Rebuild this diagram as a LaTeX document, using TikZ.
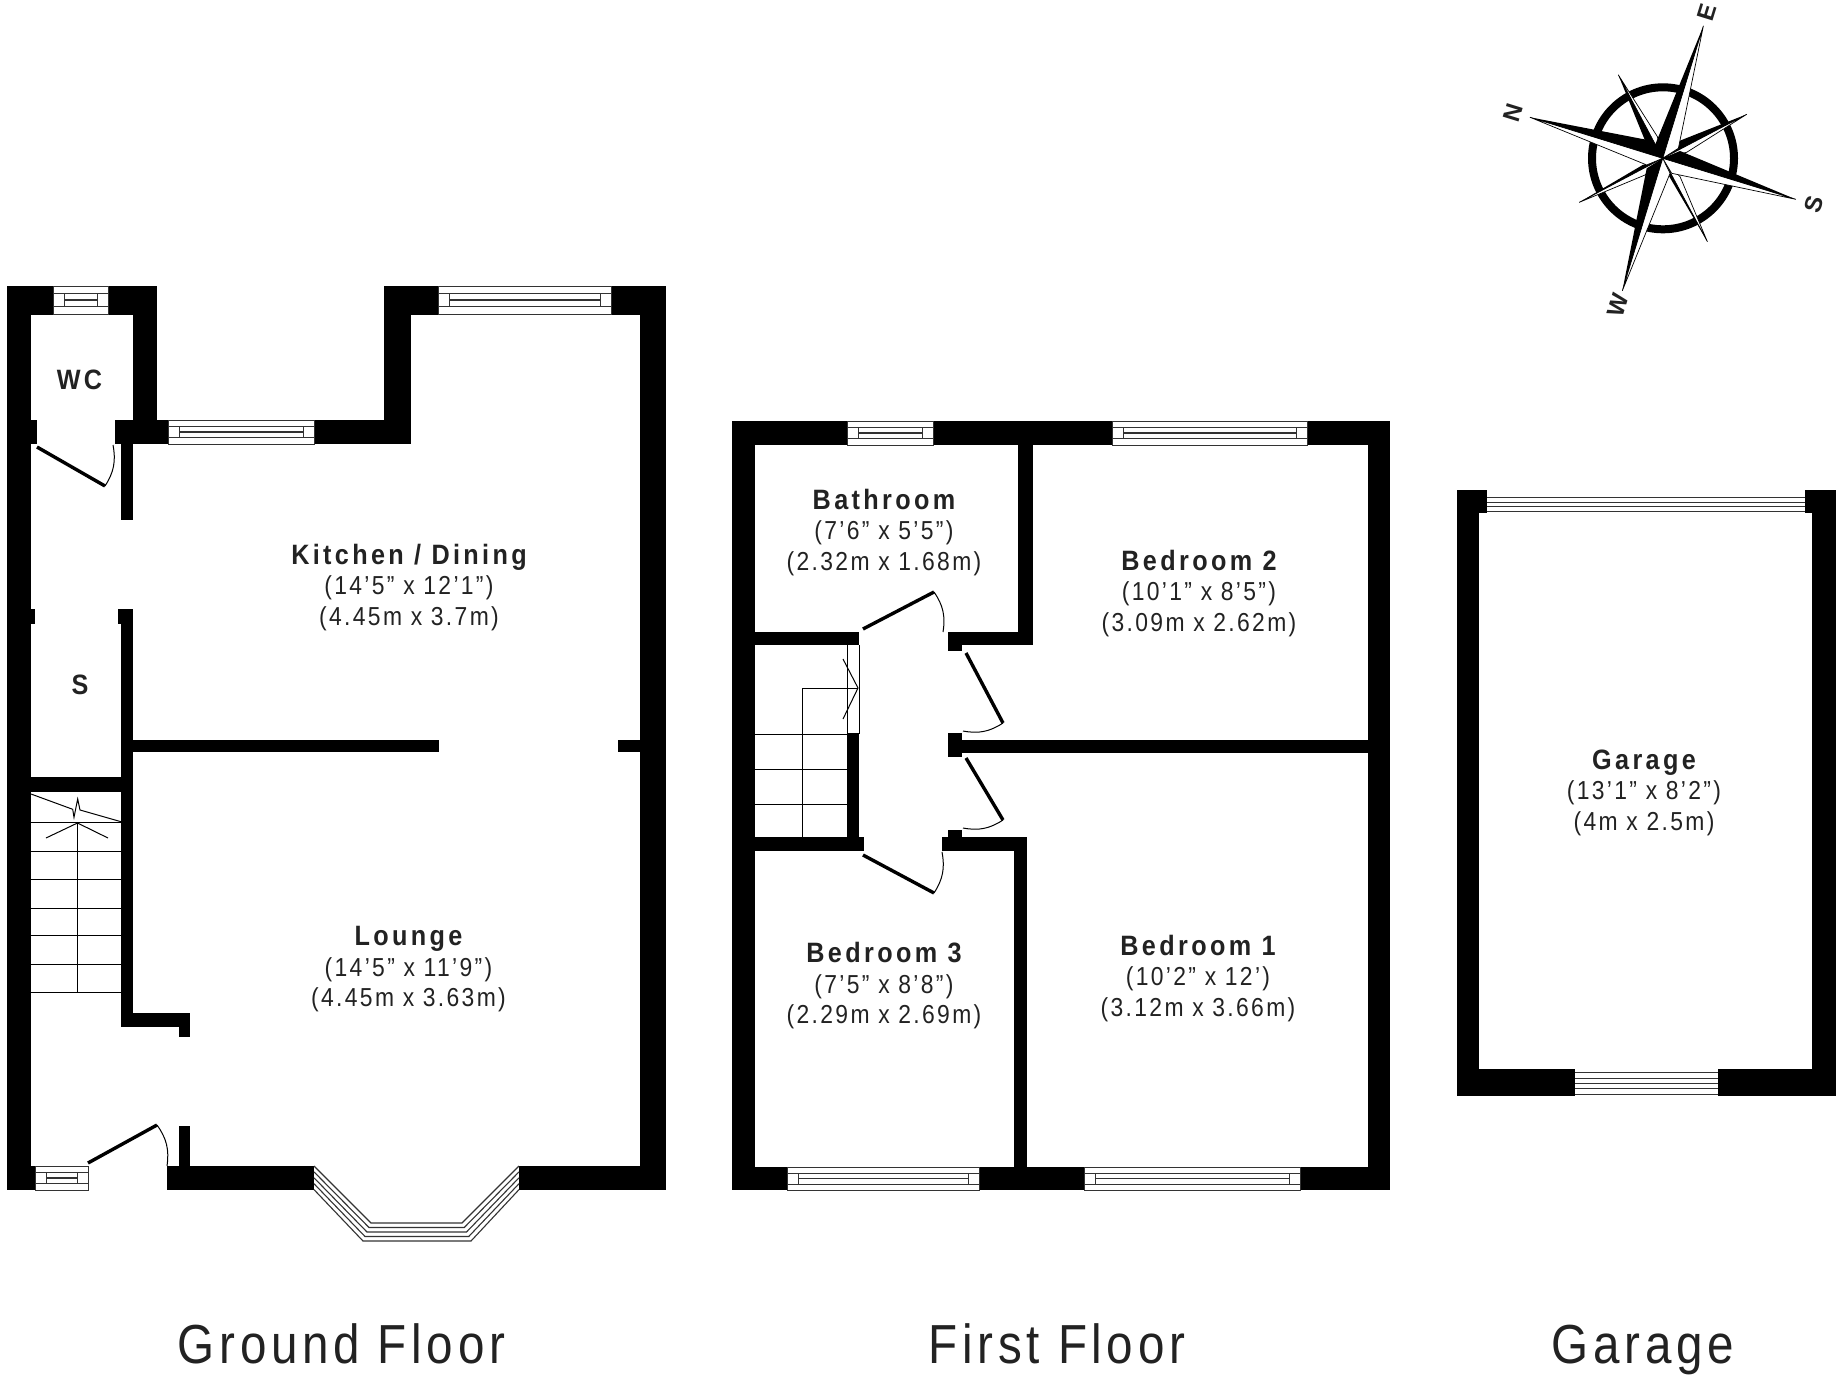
\documentclass[tikz,border=0pt]{standalone}
\usepackage{fontspec}
\setmainfont{Liberation Sans}
\newfontfamily\labfont[LetterSpace=9,FakeStretch=0.88]{Liberation Sans}
\newfontfamily\titlefont[LetterSpace=12,FakeStretch=0.9]{Liberation Sans}
\newfontfamily\capfont[LetterSpace=8.5,FakeStretch=0.865]{Liberation Sans}
\definecolor{ink}{HTML}{222222}
\definecolor{winline}{HTML}{333333}
\newcommand{\rt}[1]{{\titlefont\bfseries\fontsize{28}{30.5}\selectfont #1}}
\tikzset{
  wallfill/.style={fill=black,draw=none},
  roomlab/.style={font=\labfont\fontsize{26}{30.5}\selectfont,text=ink,align=center,inner sep=0pt},
  tag/.style={font=\titlefont\bfseries\fontsize{28}{30}\selectfont,text=ink,inner sep=0pt},
  floorcap/.style={font=\capfont\fontsize{55}{60}\selectfont,text=ink,inner sep=0pt,anchor=base},
  compassfont/.style={font=\bfseries\fontsize{24}{24}\selectfont,text=ink,inner sep=0pt},
  doorleaf/.style={draw=black,line width=3.4pt},
  doorarc/.style={draw=black,line width=1pt},
  stairline/.style={draw=black,line width=1pt},
  winframe/.style={draw=winline,line width=1pt,fill=white},
  winbar/.style={draw=winline,line width=1pt},
}
\newcommand{\wl}[4]{\fill[wallfill] (#1,#2) rectangle (#3,#4);}
\newcommand{\winh}[4]{%
  \draw[winframe] (#1,#2) rectangle (#3,#4);
  \pgfmathsetmacro{\ya}{#2+0.27*(#4-#2)}
  \pgfmathsetmacro{\yb}{#2+0.50*(#4-#2)}
  \pgfmathsetmacro{\yc}{#2+0.74*(#4-#2)}
  \pgfmathsetmacro{\xa}{#1+11}
  \pgfmathsetmacro{\xb}{#3-11}
  \draw[winbar] (#1,\ya) -- (#3,\ya);
  \draw[winbar] (#1,\yc) -- (#3,\yc);
  \draw[winbar] (\xa,\ya) -- (\xa,\yc);
  \draw[winbar] (\xb,\ya) -- (\xb,\yc);
  \draw[winbar,line width=1.5pt] (\xa,\yb) -- (\xb,\yb);
}
\newcommand{\ray}[6]{%
  \draw[fill=white,draw=black,line width=.7pt,line join=round] (0,0) -- (#1,#2) -- (#5,#6) -- cycle;
  \fill[black] (0,0) -- (#1,#2) -- (#3,#4) -- cycle;
}
\begin{document}
\begin{tikzpicture}[x=1pt,y=-1pt]
\useasboundingbox (0,0) rectangle (1840,1376);
\fill[white] (0,0) rectangle (1840,1376);

% ---------- Ground floor ----------
\wl{7}{286}{31}{1190}
\wl{31}{1166}{35}{1190}
\wl{7}{286}{157}{315}
\wl{133}{286}{157}{444}
\wl{31}{420}{37}{444}
\wl{115}{420}{168}{444}
\wl{121}{444}{133}{520}
\wl{168}{420}{411}{444}
\wl{384}{286}{411}{444}
\wl{384}{286}{666}{315}
\wl{640}{286}{666}{1190}
\wl{31}{609}{35}{624}
\wl{118}{609}{133}{624}
\wl{121}{624}{133}{1027}
\wl{133}{740}{439}{752}
\wl{618}{740}{640}{752}
\wl{31}{777}{121}{792}
\wl{121}{1013}{190}{1027}
\wl{179}{1013}{190}{1037}
\wl{179}{1126}{190}{1166}
\wl{167}{1166}{314}{1190}
\wl{519}{1166}{666}{1190}
\winh{53}{286}{108}{314}
\winh{168}{420}{314}{444}
\winh{438}{286}{611}{314}
\winh{35}{1166}{88}{1190}

% bay window
\foreach \i in {0,1,2,3,4}{
  \pgfmathsetmacro{\ya}{1166+5.9*\i}
  \pgfmathsetmacro{\yb}{1223+4.5*\i}
  \pgfmathsetmacro{\xa}{371-2*\i}
  \pgfmathsetmacro{\xb}{462+2.25*\i}
  \draw[draw=winline,line width=1.1pt] (314,\ya) -- (\xa,\yb) -- (\xb,\yb) -- (519,\ya);
}

% stairs, ground floor
\foreach \yy in {822,851,879,908,935,964,992}{ \draw[stairline] (31,\yy) -- (121,\yy); }
\draw[stairline] (77.5,823) -- (77.5,992);
\draw[stairline] (46,838) -- (77.5,823) -- (108,838);
\draw[stairline] (31,794) -- (72.7,809.3) -- (74,817.3) -- (77.7,799) -- (80,810) -- (121,821.7);

% doors, ground floor
\draw[doorleaf] (37,447) -- (105,486);
\draw[doorarc] (105,486) to[bend right=22] (113,445);
\draw[doorleaf] (88,1163) -- (157,1125);
\draw[doorarc] (157,1125) to[bend left=22] (167,1166);

% ---------- First floor ----------
\wl{732}{421}{755}{1190}
\wl{732}{421}{1390}{445}
\wl{1368}{421}{1390}{1190}
\wl{732}{1167}{1390}{1190}
\wl{1018}{445}{1033}{645}
\wl{948}{632}{1033}{645}
\wl{948}{645}{962}{651}
\wl{755}{632}{859}{645}
\wl{847}{733}{859}{837}
\wl{755}{837}{864}{851}
\wl{942}{837}{1027}{851}
\wl{948}{830}{962}{837}
\wl{948}{733}{962}{757}
\wl{962}{740}{1368}{753}
\wl{1014}{851}{1027}{1167}
\winh{847}{421}{933}{445}
\winh{1112}{421}{1307}{445}
\winh{787}{1167}{979}{1190}
\winh{1084}{1167}{1300}{1190}

% stairs, first floor
\draw[stairline] (847,645) -- (847,734) (859,645) -- (859,734);
\foreach \yy in {734,769,804}{ \draw[stairline] (755,\yy) -- (847,\yy); }
\draw[stairline] (802,688) -- (802,837);
\draw[stairline] (802,688) -- (858,688);
\draw[stairline] (843,659) -- (858,688) -- (843,719);

% doors, first floor
\draw[doorleaf] (863,629) -- (934,592);
\draw[doorarc] (934,592) to[bend left=22] (943,632);
\draw[doorleaf] (966,653) -- (1003,723);
\draw[doorarc] (1003,723) to[bend left=22] (963,731);
\draw[doorleaf] (966,758) -- (1003,820);
\draw[doorarc] (1003,820) to[bend left=22] (963,828);
\draw[doorleaf] (863,855) -- (934,893);
\draw[doorarc] (934,893) to[bend right=22] (942,852);

% ---------- Garage ----------
\wl{1457}{490}{1479}{1096}
\wl{1479}{490}{1487}{513}
\wl{1812}{490}{1836}{1096}
\wl{1805}{490}{1812}{513}
\wl{1479}{1069}{1575}{1096}
\wl{1718}{1069}{1812}{1096}
\foreach \yy in {497.5,502,506,511.5}{ \draw[winbar] (1487,\yy) -- (1805,\yy); }
\foreach \yy in {1072,1078,1083,1088,1094.5}{ \draw[winbar] (1575,\yy) -- (1718,\yy); }

% ---------- Compass ----------
\draw[line width=8pt,draw=black] (1663,158.3) circle [radius=71];
\begin{scope}[shift={(1662.7,158.3)},x=0.33333pt,y=-0.33333pt]
  \ray{-133}{-250}{-53}{-53}{-16}{-65}
  \ray{252}{-132}{52}{-53}{72}{-18}
  \ray{134}{250}{17}{50}{52}{55}
  \ray{-250}{132}{-60}{20}{-53}{50}
  \ray{-398}{-123}{-30}{-52}{-48}{20}
  \ray{122}{-397}{-23}{-40}{47}{-30}
  \ray{399}{123}{52}{-22}{27}{45}
  \ray{-121}{397}{-48}{30}{22}{45}
\end{scope}
\node[compassfont,rotate=72.8] (cn) at (1513.3,112.7) {N};
\node[compassfont,rotate=72.8] (ce) at (1707.3,12.7) {E};
\node[compassfont,rotate=72.8] (cs) at (1814,204) {S};
\node[compassfont,rotate=72.8] (cw) at (1618.3,305) {W};

% ---------- Labels ----------
\node[tag] (wc) at (79.5,380) {WC};
\node[tag] (store) at (80,685) {S};
\node[roomlab] (kitchen) at (409,587.5) {\rt{Kitchen / Dining}\\(14’5” x 12’1”)\\(4.45m x 3.7m)};
\node[roomlab] (lounge) at (408.5,969.5) {\rt{Lounge}\\(14’5” x 11’9”)\\(4.45m x 3.63m)};
\node[roomlab] (bath) at (884,532.5) {\rt{Bathroom}\\(7’6” x 5’5”)\\(2.32m x 1.68m)};
\node[roomlab] (bed2) at (1199,593.5) {\rt{Bedroom 2}\\(10’1” x 8’5”)\\(3.09m x 2.62m)};
\node[roomlab] (bed3) at (884,986) {\rt{Bedroom 3}\\(7’5” x 8’8”)\\(2.29m x 2.69m)};
\node[roomlab] (bed1) at (1198,978.5) {\rt{Bedroom 1}\\(10’2” x 12’)\\(3.12m x 3.66m)};
\node[roomlab] (garage) at (1644,792.5) {\rt{Garage}\\(13’1” x 8’2”)\\(4m x 2.5m)};
\node[floorcap] (capg) at (341.5,1363) {Ground Floor};
\node[floorcap] (capf) at (1057,1363) {First Floor};
\node[floorcap] (capp) at (1643,1363) {Garage};
\end{tikzpicture}
\end{document}
